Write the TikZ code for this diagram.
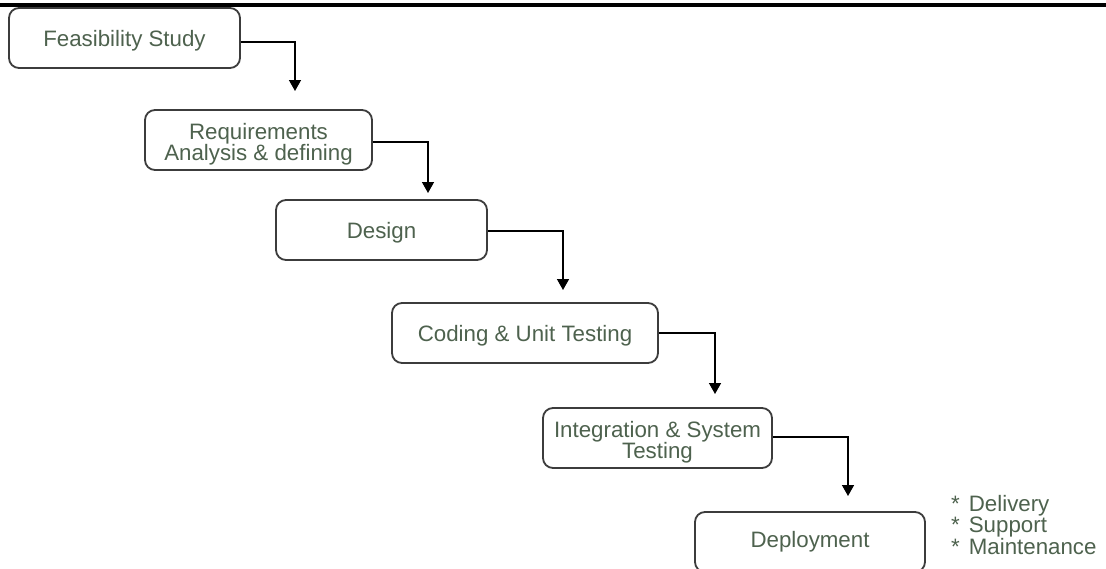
\documentclass[tikz,border=0pt]{standalone}
\usepackage{fontspec}
\setmainfont{Liberation Sans}
\usetikzlibrary{arrows.meta}
\definecolor{boxline}{RGB}{60,60,60}
\definecolor{labeltext}{RGB}{78,98,78}
\tikzset{
  phase/.style={draw=boxline, line width=1.8pt, rounded corners=10pt, fill=white,
    inner sep=0pt, align=center, text=labeltext,
    font=\fontsize{22.3}{21.5}\selectfont},
  lowered/.style={text height=22pt},
  lowered2/.style={text height=46.5pt},
  flow/.style={draw=black, line width=1.5pt,
    -{Triangle[width=12pt,length=11pt]}},
}
\begin{document}
\begin{tikzpicture}[x=1pt,y=-1pt]
  \clip (0,0) rectangle (1106,568);
  \fill[white] (0,0) rectangle (1106,568);

  % rule across the top
  \draw[line width=4pt] (0,5) -- (1106,5);

  % phases
  \node[phase, lowered, minimum width=231pt, minimum height=60pt] (b1) at (124.5,38) {Feasibility Study};
  \node[phase, lowered2, minimum width=227pt, minimum height=60pt] (b2) at (258.5,140) {Requirements\\Analysis \& defining};
  \node[phase, lowered, minimum width=211pt, minimum height=60pt] (b3) at (381.5,230) {Design};
  \node[phase, lowered, minimum width=266pt, minimum height=60pt] (b4) at (525,333) {Coding \& Unit Testing};
  \node[phase, lowered2, minimum width=229pt, minimum height=60pt] (b5) at (657.5,438) {Integration \& System\\Testing};
  \node[phase, minimum width=230pt, minimum height=60pt] (b6) at (810,542) {Deployment};

  % arrow tips above each following phase
  \coordinate (t1) at (295,91);
  \coordinate (t2) at (428,193);
  \coordinate (t3) at (563,290);
  \coordinate (t4) at (715,394);
  \coordinate (t5) at (848,496);

  % step connectors
  \draw[flow] ([yshift=-4pt]b1.east) -| (t1);
  \draw[flow] ([yshift=-2pt]b2.east) -| (t2);
  \draw[flow] ([yshift=-1pt]b3.east) -| (t3);
  \draw[flow] (b4.east) -| (t4);
  \draw[flow] ([yshift=1pt]b5.east) -| (t5);

  % deployment activities
  \node[anchor=west, align=left, inner sep=0pt, text=labeltext,
        font=\fontsize{22.3}{20}\selectfont] (notes) at (951,525)
    {*\hspace{9pt}Delivery\\*\hspace{9pt}Support\\*\hspace{9pt}Maintenance};
\end{tikzpicture}
\end{document}
